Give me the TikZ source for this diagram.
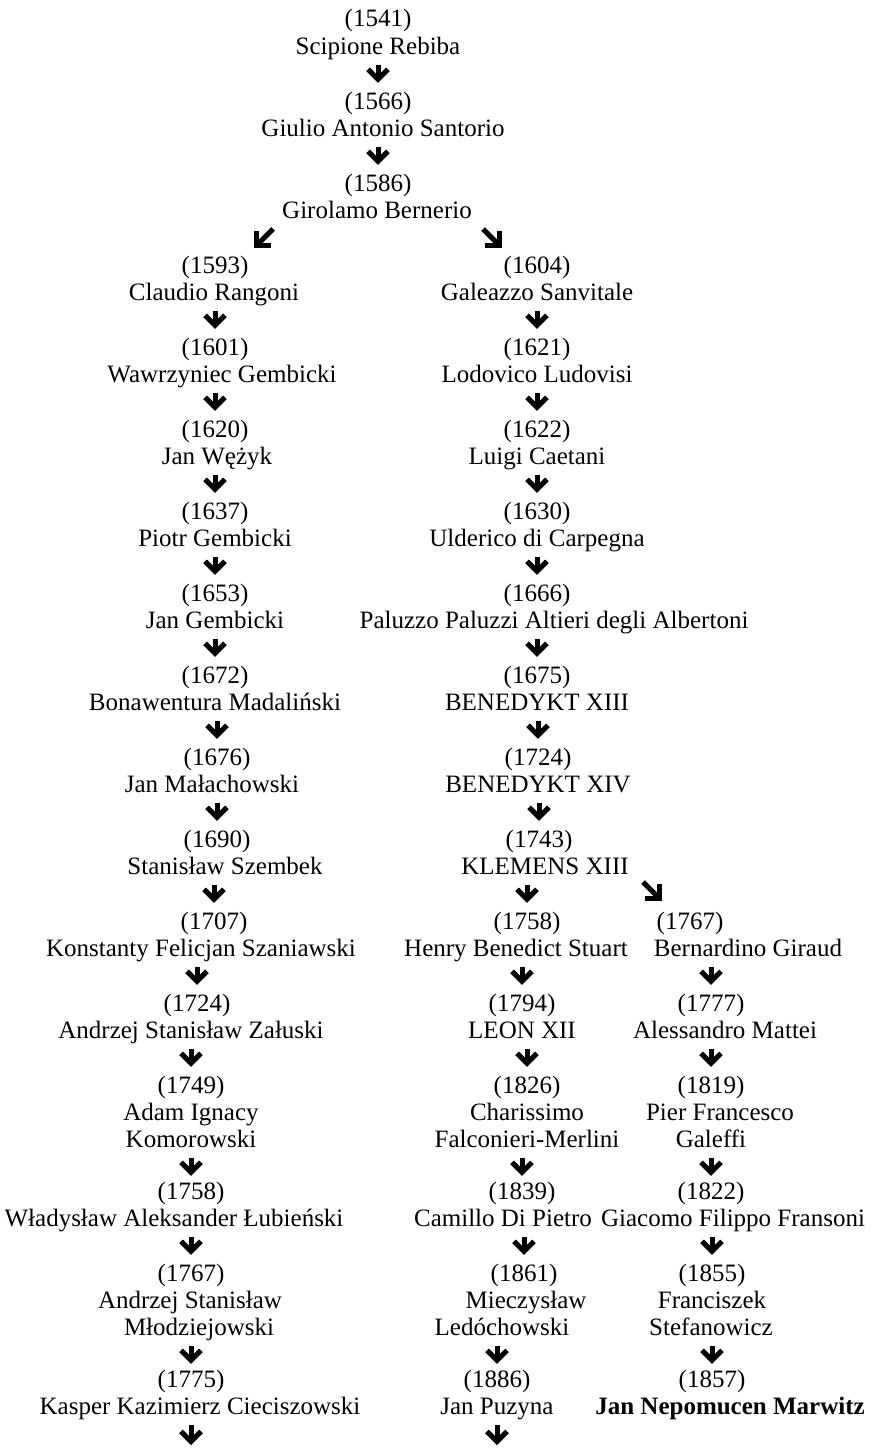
\documentclass[tikz,border=0pt]{standalone}
\usepackage{fontspec}
\setmainfont{Liberation Serif}
\usetikzlibrary{arrows.meta}
\begin{document}
\begin{tikzpicture}[x=1pt,y=-1pt,
  t/.style={anchor=base,inner sep=0pt,font=\fontsize{25}{27}\selectfont,text height=18pt,text depth=5pt},
  tip/.style={-{Straight Barb[length=10pt,width=20pt]}},
  arr/.style={line width=5pt,tip,shorten <=6pt,shorten >=8pt},
  arrb/.style={arr,shorten >=5pt},
  darr/.style={line width=5pt,tip}]
\useasboundingbox (0,0) rectangle (872,1448);
% top chain
\node[t] (y1541) at (378,27) {(1541)};
\node[t] (n1541) at (378,54) {Scipione Rebiba};
\node[t] (y1566) at (378,109) {(1566)};
\node[t] (n1566) at (383,136) {Giulio Antonio Santorio};
\node[t] (y1586) at (378,191) {(1586)};
\node[t] (n1586) at (377,218) {Girolamo Bernerio};
% left column
\node[t] (y1593) at (215,273) {(1593)};
\node[t] (n1593) at (214,300) {Claudio Rangoni};
\node[t] (y1601) at (215,355) {(1601)};
\node[t] (n1601) at (222,382) {Wawrzyniec Gembicki};
\node[t] (y1620) at (215,437) {(1620)};
\node[t] (n1620) at (217,464) {Jan Wężyk};
\node[t] (y1637) at (215,519) {(1637)};
\node[t] (n1637) at (215,546) {Piotr Gembicki};
\node[t] (y1653) at (215,601) {(1653)};
\node[t] (n1653) at (215,628) {Jan Gembicki};
\node[t] (y1672) at (215,683) {(1672)};
\node[t] (n1672) at (215,710) {Bonawentura Madaliński};
\node[t] (y1676) at (217,765) {(1676)};
\node[t] (n1676) at (212,792) {Jan Małachowski};
\node[t] (y1690) at (217,847) {(1690)};
\node[t] (n1690) at (225,874) {Stanisław Szembek};
\node[t] (y1707) at (214,929) {(1707)};
\node[t] (n1707) at (201,956) {Konstanty Felicjan Szaniawski};
\node[t] (y1724) at (197,1011) {(1724)};
\node[t] (n1724) at (191,1038) {Andrzej Stanisław Załuski};
\node[t] (y1749) at (191,1093) {(1749)};
\node[t] (n1749a) at (191,1120) {Adam Ignacy};
\node[t] (n1749) at (191,1147) {Komorowski};
\node[t] (y1758) at (191,1199) {(1758)};
\node[t] (n1758) at (174,1226) {Władysław Aleksander Łubieński};
\node[t] (y1767) at (191,1281) {(1767)};
\node[t] (n1767a) at (190,1308) {Andrzej Stanisław};
\node[t] (n1767) at (199,1335) {Młodziejowski};
\node[t] (y1775) at (191,1387) {(1775)};
\node[t] (n1775) at (200,1414) {Kasper Kazimierz Cieciszowski};
\coordinate (endL) at (191,1445);
% middle column
\node[t] (y1604) at (537,273) {(1604)};
\node[t] (n1604) at (537,300) {Galeazzo Sanvitale};
\node[t] (y1621) at (537,355) {(1621)};
\node[t] (n1621) at (537,382) {Lodovico Ludovisi};
\node[t] (y1622) at (537,437) {(1622)};
\node[t] (n1622) at (537,464) {Luigi Caetani};
\node[t] (y1630) at (537,519) {(1630)};
\node[t] (n1630) at (537,546) {Ulderico di Carpegna};
\node[t] (y1666) at (537,601) {(1666)};
\node[t] (n1666) at (554,628) {Paluzzo Paluzzi Altieri degli Albertoni};
\node[t] (y1675) at (537,683) {(1675)};
\node[t] (n1675) at (537,710) {BENEDYKT XIII};
\node[t] (y1724b) at (538,765) {(1724)};
\node[t] (n1724b) at (538,792) {BENEDYKT XIV};
\node[t] (y1743) at (539,847) {(1743)};
\node[t] (n1743) at (545,874) {KLEMENS XIII};
\node[t] (y1758b) at (527,929) {(1758)};
\node[t] (n1758b) at (516,956) {Henry Benedict Stuart};
\node[t] (y1794) at (522,1011) {(1794)};
\node[t] (n1794) at (522,1038) {LEON XII};
\node[t] (y1826) at (527,1093) {(1826)};
\node[t] (n1826a) at (527,1120) {Charissimo};
\node[t] (n1826) at (527,1147) {Falconieri-Merlini};
\node[t] (y1839) at (522,1199) {(1839)};
\node[t] (n1839) at (503,1226) {Camillo Di Pietro};
\node[t] (y1861) at (524,1281) {(1861)};
\node[t] (n1861a) at (526,1308) {Mieczysław};
\node[t] (n1861) at (502,1335) {Ledóchowski};
\node[t] (y1886) at (497,1387) {(1886)};
\node[t] (n1886) at (497,1414) {Jan Puzyna};
\coordinate (endM) at (497,1445);
% right column
\node[t] (y1767b) at (690,929) {(1767)};
\node[t] (n1767b) at (748,956) {Bernardino Giraud};
\node[t] (y1777) at (711,1011) {(1777)};
\node[t] (n1777) at (725,1038) {Alessandro Mattei};
\node[t] (y1819) at (711,1093) {(1819)};
\node[t] (n1819a) at (720,1120) {Pier Francesco};
\node[t] (n1819) at (711,1147) {Galeffi};
\node[t] (y1822) at (711,1199) {(1822)};
\node[t] (n1822) at (733,1226) {Giacomo Filippo Fransoni};
\node[t] (y1855) at (712,1281) {(1855)};
\node[t] (n1855a) at (712,1308) {Franciszek};
\node[t] (n1855) at (711,1335) {Stefanowicz};
\node[t] (y1857) at (712,1387) {(1857)};
\node[t,font=\fontsize{25}{27}\selectfont\bfseries] (n1857) at (730,1414) {Jan Nepomucen Marwitz};
% diagonal arrow coordinates
\coordinate (dA1) at (273,229); \coordinate (dA2) at (254,248);
\coordinate (dB1) at (483,229); \coordinate (dB2) at (502,248);
\coordinate (dC1) at (643,882); \coordinate (dC2) at (662,901);
% arrows
\draw[arr] (n1541.south -| y1566.north) -- (y1566.north);
\draw[arr] (n1566.south -| y1586.north) -- (y1586.north);
\draw[darr] (dA1) -- (dA2);
\draw[darr] (dB1) -- (dB2);
\foreach \a/\b in {n1593/y1601,n1601/y1620,n1620/y1637,n1637/y1653,n1653/y1672,n1672/y1676,n1676/y1690,n1690/y1707,n1707/y1724,n1724/y1749,n1758/y1767,
  n1604/y1621,n1621/y1622,n1622/y1630,n1630/y1666,n1666/y1675,n1675/y1724b,n1724b/y1743,n1743/y1758b,n1758b/y1794,n1794/y1826,n1839/y1861,
  n1767b/y1777,n1777/y1819,n1822/y1855}
  \draw[arr] (\a.south -| \b.north) -- (\b.north);
\foreach \a/\b in {n1749/y1758,n1767/y1775,n1826/y1839,n1861/y1886,n1819/y1822,n1855/y1857}
  \draw[arrb] (\a.south -| \b.north) -- (\b.north);
\draw[darr] (dC1) -- (dC2);
\draw[arr,shorten >=0pt] (n1775.south -| endL) -- (endL);
\draw[arr,shorten >=0pt] (n1886.south -| endM) -- (endM);
\end{tikzpicture}
\end{document}
